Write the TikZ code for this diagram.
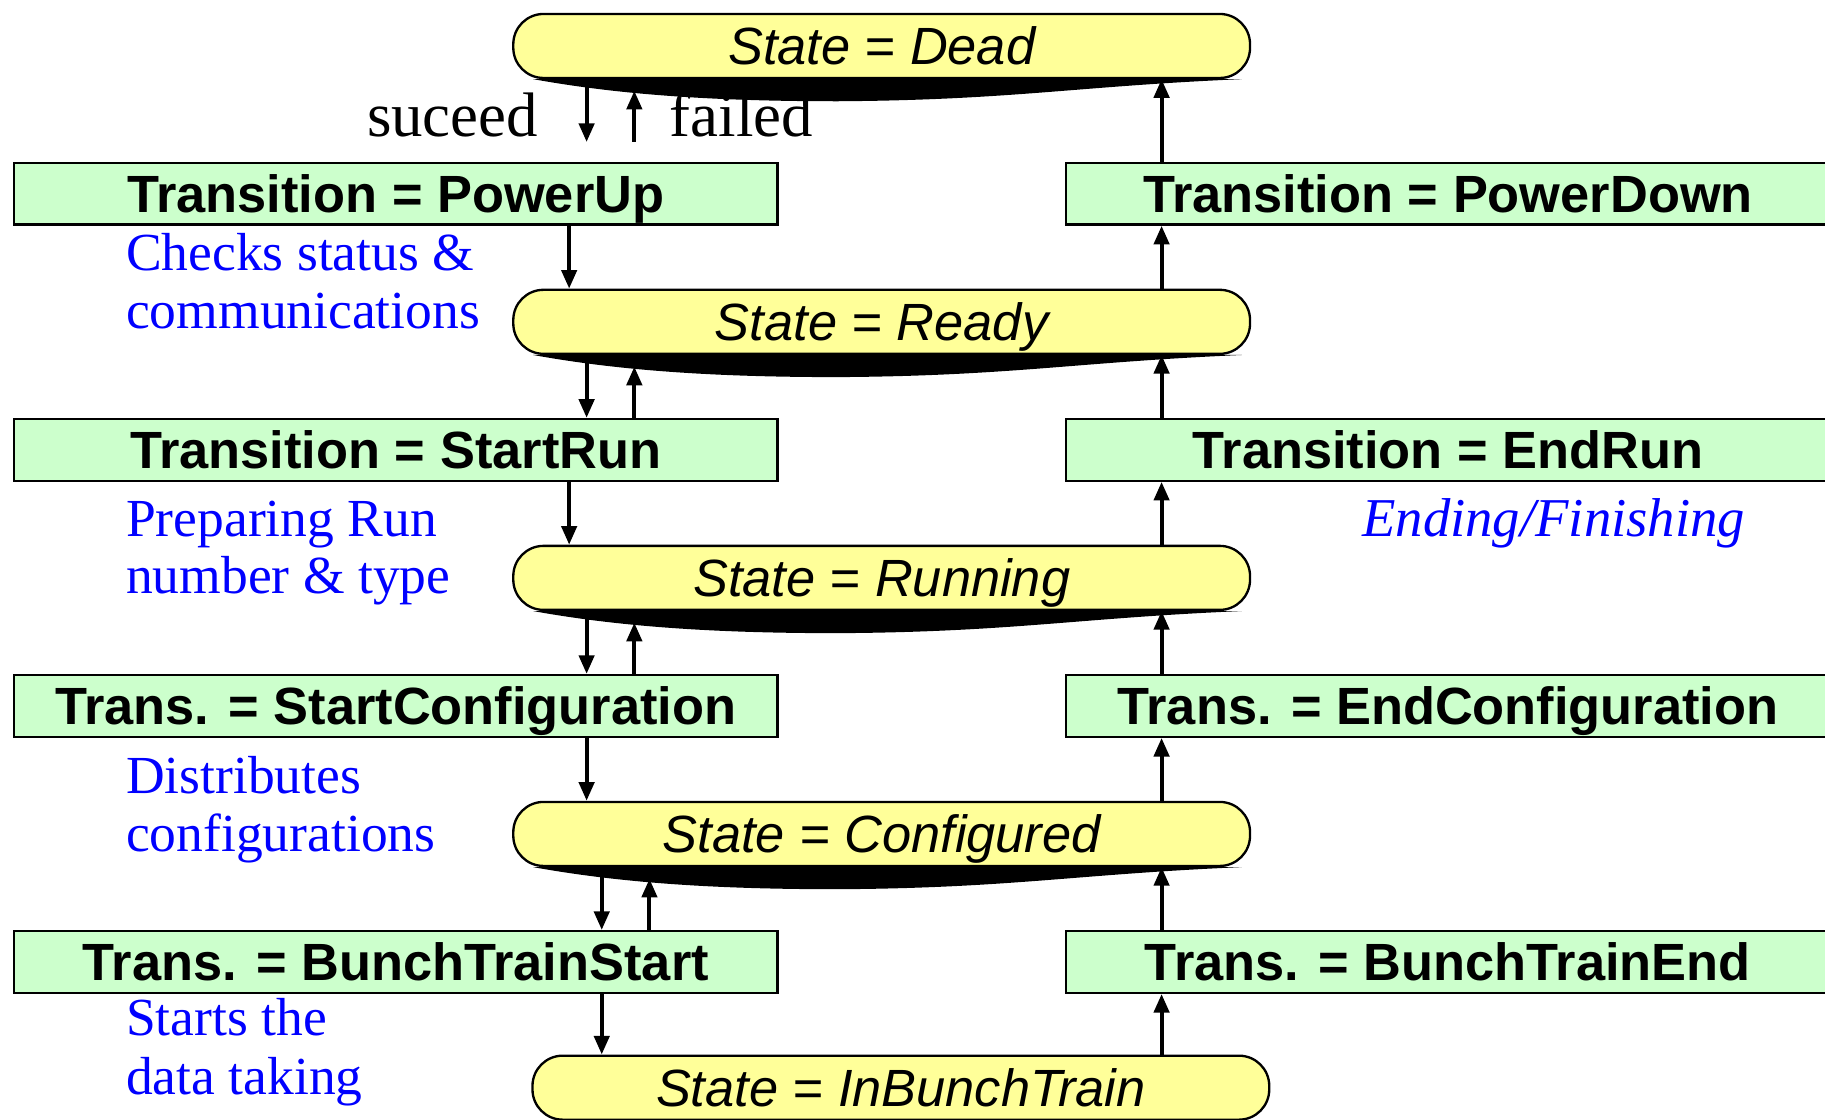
\documentclass[tikz,border=0pt]{standalone}
\usepackage{fontspec}
\setmainfont{Liberation Serif}
\newfontfamily\arialf{Liberation Sans}
\usetikzlibrary{arrows.meta,calc}
\definecolor{stateyellow}{HTML}{FFFF99}
\definecolor{transgreen}{HTML}{CCFFCC}
\newcommand\stshadow[1]{%
  \fill[black] ($(#1.south west)+(18,0)$)
    .. controls ($(#1.south west)+(90,13)$) and ($(#1.south west)+(170,19)$) .. ($(#1.south west)+(280,19)$)
    .. controls ($(#1.south west)+(430,18)$) and ($(#1.south east)+(-150,6)$) .. ($(#1.south east)+(-8,0)$) -- cycle;}
\begin{document}
\begin{tikzpicture}[x=0.5pt,y=-0.5pt,
  statebox/.style={draw=black, line width=1pt, fill=stateyellow, rounded corners=13pt,
    minimum width=316.5pt, minimum height=27.5pt, inner sep=0pt, text height=16pt, text depth=0pt,
    font=\arialf\itshape\fontsize{22.5}{27}\selectfont},
  transbox/.style={draw=black, line width=1pt, fill=transgreen,
    minimum width=328pt, minimum height=26.5pt, inner sep=0pt, text height=16pt, text depth=0pt,
    font=\arialf\bfseries\fontsize{22.5}{27}\selectfont},
  note/.style={anchor=base west, inner sep=0pt, text=blue, font=\fontsize{23}{25}\selectfont},
  lbl/.style={anchor=base west, inner sep=0pt, font=\fontsize{27}{30}\selectfont},
  arr/.style={line width=1.7pt, -{Triangle[length=8pt,width=6.5pt]}},
  upin/.style={shorten >=5pt},
]
\useasboundingbox (0,0) rectangle (1568,962);
\fill[white] (0,0) rectangle (1568,962);
\clip (0,0) rectangle (1568,962);

% states
\node[statebox] (dead) at (757.5,39.5) {State = Dead};
\node[statebox] (ready) at (757.5,276.5) {State = Ready};
\node[statebox] (running) at (757.5,496.5) {State = Running};
\node[statebox] (configured) at (757.5,716.5) {State = Configured};
\node[statebox] (inbunch) at (774,934.5) {State = InBunchTrain};
\stshadow{dead}
\stshadow{ready}
\stshadow{running}
\stshadow{configured}

% transitions
\node[transbox] (pu) at (340,166.5) {Transition = PowerUp};
\node[transbox] (sr) at (340,386.5) {Transition = StartRun};
\node[transbox] (sc) at (340,606.5) {Trans. = StartConfiguration};
\node[transbox] (bts) at (340,826.5) {Trans. = BunchTrainStart};
\node[transbox] (pd) at (1244,166.5) {Transition = PowerDown};
\node[transbox] (er) at (1244,386.5) {Transition = EndRun};
\node[transbox] (ec) at (1244,606.5) {Trans. = EndConfiguration};
\node[transbox] (bte) at (1244,826.5) {Trans. = BunchTrainEnd};

% columns
\coordinate (xa) at (489,0);
\coordinate (xb) at (504,0);
\coordinate (xc) at (545,0);
\coordinate (xd) at (517,0);
\coordinate (xe) at (558,0);
\coordinate (xr) at (998,0);

% left side
\draw[arr, shorten >=8.5pt] (dead.south -| xb) -- (pu.north -| xb);
\draw[arr, upin, shorten <=8.5pt] (pu.north -| xc) -- (dead.south -| xc);
\draw[arr] (pu.south -| xa) -- (ready.north -| xa);
\draw[arr] (ready.south -| xb) -- (sr.north -| xb);
\draw[arr, upin] (sr.north -| xc) -- (ready.south -| xc);
\draw[arr] (sr.south -| xa) -- (running.north -| xa);
\draw[arr] (running.south -| xb) -- (sc.north -| xb);
\draw[arr, upin] (sc.north -| xc) -- (running.south -| xc);
\draw[arr] (sc.south -| xb) -- (configured.north -| xb);
\draw[arr] (configured.south -| xd) -- (bts.north -| xd);
\draw[arr, upin] (bts.north -| xe) -- (configured.south -| xe);
\draw[arr] (bts.south -| xd) -- (inbunch.north -| xd);

% right side
\draw[arr] (inbunch.north -| xr) -- (bte.south -| xr);
\draw[arr] (bte.north -| xr) -- (configured.south -| xr);
\draw[arr] (configured.north -| xr) -- (ec.south -| xr);
\draw[arr] (ec.north -| xr) -- (running.south -| xr);
\draw[arr] (running.north -| xr) -- (er.south -| xr);
\draw[arr] (er.north -| xr) -- (ready.south -| xr);
\draw[arr] (ready.north -| xr) -- (pd.south -| xr);
\draw[arr] (pd.north -| xr) -- (dead.south -| xr);

% labels
\node[lbl] (suc) at (315,117) {suceed};
\node[lbl] (fail) at (575,117) {failed};

\node[note] (n1a) at (108,232) {Checks status \&};
\node[note] (n1b) at (108,282) {communications};
\node[note] (n2a) at (108,461) {Preparing Run};
\node[note] (n2b) at (108,510) {number \& type};
\node[note] (n3a) at (108,682) {Distributes};
\node[note] (n3b) at (108,732) {configurations};
\node[note] (n4a) at (108,890) {Starts the};
\node[note] (n4b) at (108,940) {data taking};
\node[note, font=\itshape\fontsize{23.5}{27}\selectfont] (n5) at (1170,461) {Ending/Finishing};
\end{tikzpicture}
\end{document}
